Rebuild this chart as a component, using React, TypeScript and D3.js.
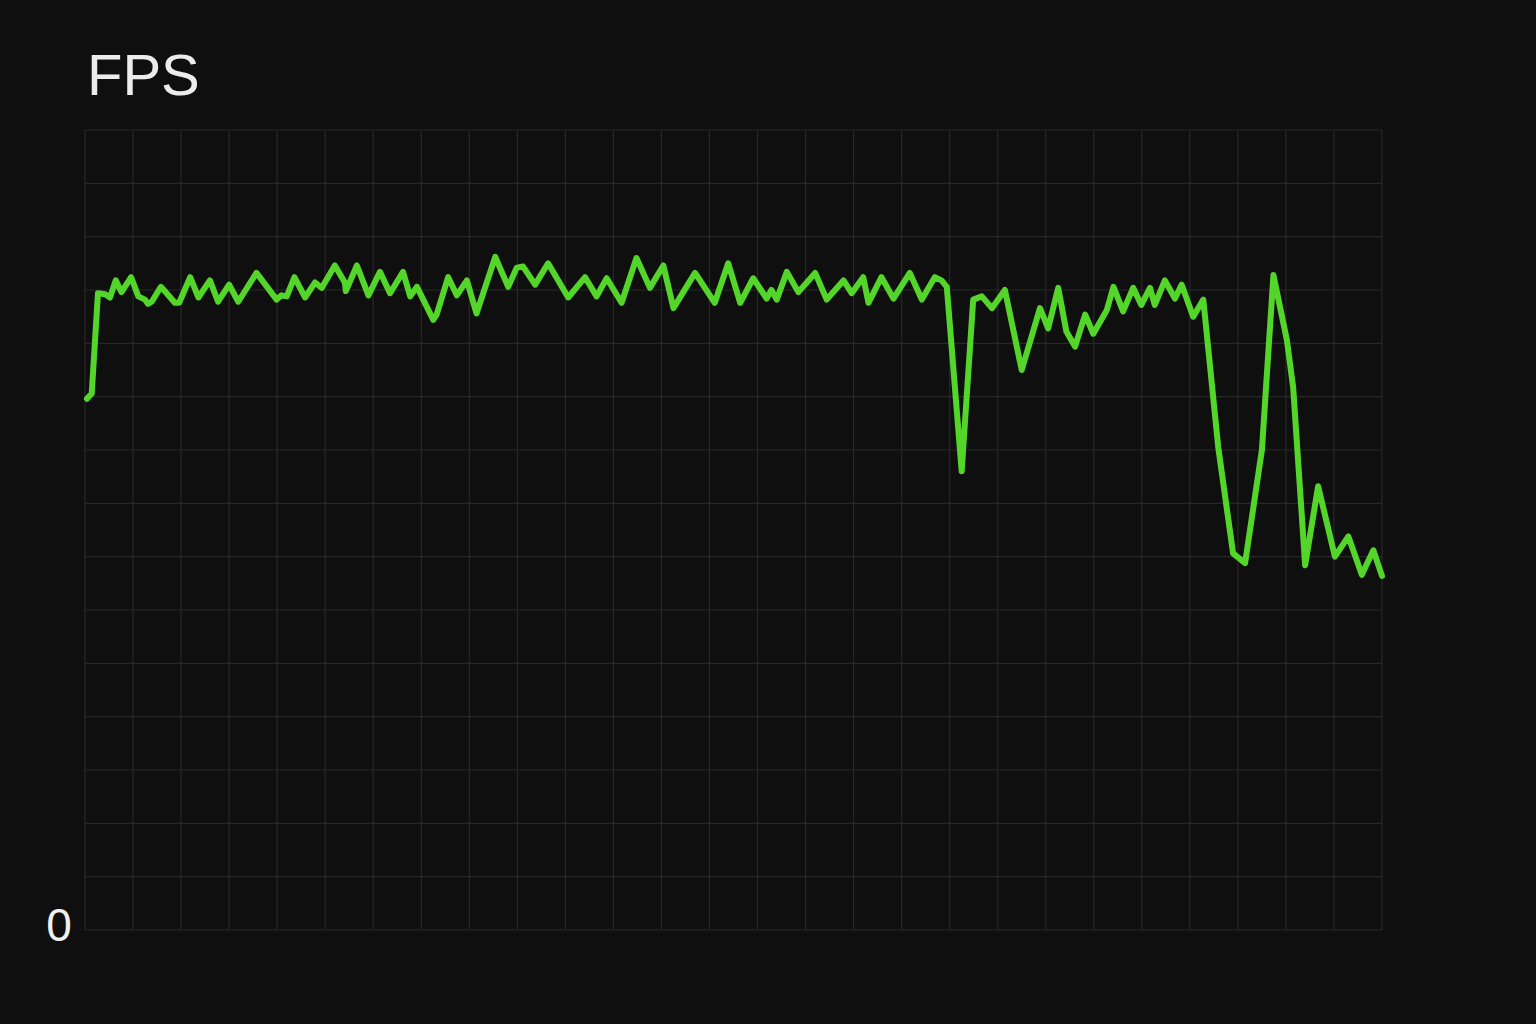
import React, { useEffect, useRef } from "react";
import * as d3 from "d3";

// time in seconds (x) and frame rate (y)
const times = [
  0.4, 1.4, 2.7, 4.2, 5.2, 6.4, 7.6, 9.6, 11.1, 12.5, 13.1, 13.9, 15.8, 17.0,
  18.7, 19.6, 21.9, 23.6, 26.0, 27.7, 30.0, 31.9, 35.7, 39.9, 40.9, 42.0, 43.6,
  45.8, 47.9, 49.3, 52.0, 54.1, 54.3, 56.6, 59.0, 61.4, 63.5, 66.2, 67.7, 69.1,
  72.5, 73.2, 75.6, 77.4, 79.5, 81.5, 85.4, 88.1, 89.9, 91.2, 93.7, 96.4, 100.6,
  104.1, 106.5, 108.6, 111.7, 114.8, 117.6, 120.4, 122.5, 127.0, 131.1, 133.9,
  136.4, 139.1, 141.9, 142.9, 144.0, 146.1, 148.5, 152.0, 154.4, 157.9, 159.6,
  162.0, 163.1, 165.8, 168.3, 171.7, 174.2, 176.9, 178.3, 179.4, 182.5, 184.9,
  186.7, 188.8, 191.5, 195.0, 198.8, 200.5, 202.6, 204.3, 206.1, 208.2, 209.9,
  212.7, 214.1, 216.1, 218.2, 219.9, 221.7, 222.7, 224.8, 226.9, 228.3, 230.7,
  232.8, 235.9, 239.0, 241.5, 245.0, 247.4, 250.2, 251.5, 254.0, 256.7, 260.2,
  263.0, 265.8, 268.2, 270.0,
];

const fps = [
  49.8, 50.3, 59.7, 59.6, 59.3, 60.9, 59.8, 61.2, 59.4, 59.1, 58.7, 58.9, 60.3,
  59.7, 58.8, 58.8, 61.2, 59.3, 60.9, 58.9, 60.5, 58.9, 61.6, 59.1, 59.5, 59.4,
  61.2, 59.3, 60.7, 60.2, 62.3, 60.7, 59.9, 62.3, 59.5, 61.7, 59.7, 61.7, 59.4,
  60.3, 57.2, 57.7, 61.2, 59.5, 60.9, 57.8, 63.1, 60.3, 62.1, 62.2, 60.5, 62.5,
  59.3, 61.2, 59.4, 61.1, 58.8, 63.0, 60.2, 62.3, 58.3, 61.6, 58.8, 62.5, 58.8,
  61.1, 59.2, 60.0, 59.1, 61.7, 59.8, 61.6, 59.1, 60.9, 59.7, 61.2, 58.8, 61.2,
  59.2, 61.6, 59.1, 61.2, 60.9, 60.3, 43.0, 59.1, 59.4, 58.3, 60.0, 52.5, 58.3,
  56.4, 60.2, 56.1, 54.7, 57.7, 55.9, 58.1, 60.3, 58.0, 60.2, 58.6, 60.2, 58.6,
  60.9, 59.2, 60.5, 57.5, 59.1, 45.3, 35.3, 34.4, 45.0, 61.4, 55.3, 50.9, 34.2,
  41.6, 35.0, 36.9, 33.3, 35.6, 33.2,
];

const xTicks = d3.range(0, 271, 10);
const yTicks = d3.range(0, 76, 5);
const yLabels = ["0"];

const FpsChart = () => {
  const ref = useRef<HTMLDivElement>(null);

  useEffect(() => {
    const width = 1536;
    const height = 1024;
    const margin = { top: 130, right: 154, bottom: 94, left: 85 };

    document.body.style.margin = "0";
    document.body.style.background = "#0f0f0f";

    d3.select(ref.current).select("svg").remove();

    const svg = d3
      .select(ref.current)
      .append("svg")
      .attr("width", width)
      .attr("height", height)
      .style("display", "block");

    svg
      .append("rect")
      .attr("width", width)
      .attr("height", height)
      .attr("fill", "#0f0f0f");

    const x = d3
      .scaleLinear()
      .domain([0, 270])
      .range([margin.left, width - margin.right]);

    const y = d3
      .scaleLinear()
      .domain([0, 75])
      .range([height - margin.bottom, margin.top]);

    // grid
    const grid = svg.append("g").attr("stroke", "#282828").attr("stroke-width", 1.2);

    grid
      .selectAll("line.v")
      .data(xTicks)
      .join("line")
      .attr("class", "v")
      .attr("x1", (d) => x(d))
      .attr("x2", (d) => x(d))
      .attr("y1", y(75))
      .attr("y2", y(0));

    grid
      .selectAll("line.h")
      .data(yTicks)
      .join("line")
      .attr("class", "h")
      .attr("x1", x(0))
      .attr("x2", x(270))
      .attr("y1", (d) => y(d))
      .attr("y2", (d) => y(d));

    // title
    svg
      .append("text")
      .attr("x", 87)
      .attr("y", 95)
      .style("font-family", "Liberation Sans, Arial, sans-serif")
      .style("font-size", "58px")
      .style("fill", "#ececec")
      .text("FPS");

    // zero label
    svg
      .selectAll("text.ylabel")
      .data(yLabels)
      .join("text")
      .attr("class", "ylabel")
      .attr("x", 59)
      .attr("y", (d) => y(+d) + 11)
      .attr("text-anchor", "middle")
      .style("font-family", "Liberation Sans, Arial, sans-serif")
      .style("font-size", "46px")
      .style("fill", "#f0f0f0")
      .text((d) => d);

    const points = times.map((t, i) => [t, fps[i]] as [number, number]);

    const line = d3
      .line<[number, number]>()
      .x((d) => x(d[0]))
      .y((d) => y(d[1]));

    svg
      .append("path")
      .datum(points)
      .attr("d", line)
      .attr("fill", "none")
      .attr("stroke", "#54d52a")
      .attr("stroke-width", 6)
      .attr("stroke-linejoin", "round")
      .attr("stroke-linecap", "round");
  }, []);

  return <div ref={ref}></div>;
};

export default function App() {
  return <FpsChart />;
}
